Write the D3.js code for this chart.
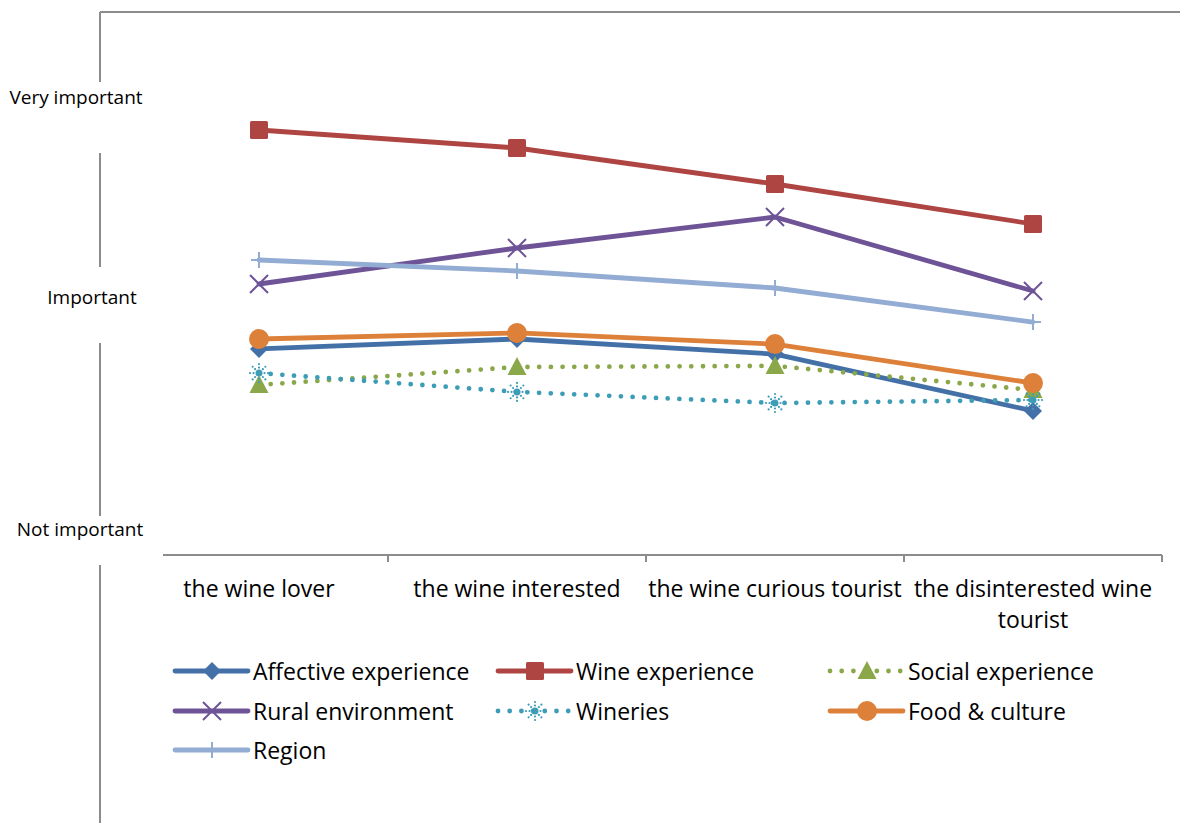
<!DOCTYPE html>
<html>
<head>
<meta charset="utf-8">
<script src="https://cdn.jsdelivr.net/npm/d3@7"></script>
<style>
  body { margin: 0; background: #fff; }
  svg text { font-family: "Open Sans", sans-serif; fill: #000; }
</style>
</head>
<body>
<div id="chart"></div>
<script>
// --- DATA ---
const categories = ["the wine lover", "the wine interested", "the wine curious tourist", "the disinterested wine tourist"];
const levelLabels = ["Not important", "Important", "Very important"];
const levelValues = [1, 2, 3];

const affective = [1.776, 1.819, 1.754, 1.509];
const wineExp   = [2.835, 2.745, 2.565, 2.365];
const social    = [1.621, 1.698, 1.703, 1.599];
const rural     = [2.065, 2.245, 2.400, 2.030];
const wineries  = [1.672, 1.591, 1.543, 1.556];
const food      = [1.819, 1.845, 1.797, 1.629];
const region    = [2.185, 2.130, 2.045, 1.892];

// --- CONFIG ---
const width = 1180, height = 823;
const grey = "#8c8c8c";
const fontSize = "23px";

const series = [
  { name: "Affective experience", values: affective, color: "#4470a8", marker: "diamond", dotted: false },
  { name: "Wine experience",      values: wineExp,   color: "#ae4542", marker: "square",  dotted: false },
  { name: "Social experience",    values: social,    color: "#8aa84a", marker: "triangle", dotted: true },
  { name: "Rural environment",    values: rural,     color: "#6e5497", marker: "x",       dotted: false },
  { name: "Wineries",             values: wineries,  color: "#3d9db7", marker: "star",    dotted: true },
  { name: "Food & culture",       values: food,      color: "#dd803a", marker: "circle",  dotted: false },
  { name: "Region",               values: region,    color: "#92acd3", marker: "plus",    dotted: false }
];

const svg = d3.select("#chart").append("svg")
  .attr("width", width)
  .attr("height", height);

// scales
const x = d3.scalePoint().domain(categories).range([130, 1162]).padding(0.5);
const xBand = d3.scaleBand().domain(categories).range([130, 1162]);
// the three importance labels are not evenly spaced in the picture
const y = d3.scaleLinear().domain(levelValues).range([529, 297, 97]);

// --- FRAME ---
svg.append("line")
  .attr("x1", 100).attr("x2", width).attr("y1", 12).attr("y2", 12)
  .attr("stroke", grey).attr("stroke-width", 2);
svg.append("line")
  .attr("x1", 100).attr("x2", 100).attr("y1", 12).attr("y2", height)
  .attr("stroke", grey).attr("stroke-width", 2);

// x axis : line + ticks at band edges
svg.append("line")
  .attr("x1", 163).attr("x2", xBand.range()[1]).attr("y1", 555).attr("y2", 555)
  .attr("stroke", grey).attr("stroke-width", 2);
svg.selectAll(".xtick")
  .data(categories)
  .join("line")
  .attr("class", "xtick")
  .attr("x1", d => xBand(d) + xBand.bandwidth())
  .attr("x2", d => xBand(d) + xBand.bandwidth())
  .attr("y1", 555).attr("y2", 562)
  .attr("stroke", grey).attr("stroke-width", 2);

// y labels in white boxes that break the vertical line
const yBoxes = [
  { top: 516, bottom: 565, cx: 80 },
  { top: 267, bottom: 343, cx: 92 },
  { top: 82,  bottom: 153, cx: 76 }
];
levelValues.forEach((v, i) => {
  const b = yBoxes[i];
  svg.append("rect")
    .attr("x", 94).attr("width", 12)
    .attr("y", b.top).attr("height", b.bottom - b.top)
    .attr("fill", "#fff");
  svg.append("text")
    .attr("x", b.cx).attr("y", y(v))
    .attr("text-anchor", "middle")
    .attr("dominant-baseline", "central")
    .style("font-size", "19px")
    .text(levelLabels[i]);
});

// x labels (wrapped like the original)
const xLabelLines = {
  "the disinterested wine tourist": ["the disinterested wine", "tourist"]
};
categories.forEach(c => {
  const lines = xLabelLines[c] || [c];
  const t = svg.append("text")
    .attr("text-anchor", "middle")
    .style("font-size", fontSize);
  lines.forEach((l, i) => {
    t.append("tspan").attr("x", x(c)).attr("y", 597 + i * 31).text(l);
  });
});

// --- MARKERS ---
function drawMarker(g, s, cx, cy) {
  const m = s.marker;
  if (m === "diamond") {
    g.append("path").attr("d", `M${cx},${cy - 9}L${cx + 9},${cy}L${cx},${cy + 9}L${cx - 9},${cy}Z`)
      .attr("fill", s.color);
  } else if (m === "square") {
    g.append("rect").attr("x", cx - 9).attr("y", cy - 9).attr("width", 18).attr("height", 18)
      .attr("rx", 1.5).attr("fill", s.color);
  } else if (m === "triangle") {
    g.append("path").attr("d", `M${cx},${cy - 10}L${cx + 9.5},${cy + 8}L${cx - 9.5},${cy + 8}Z`)
      .attr("fill", s.color);
  } else if (m === "circle") {
    g.append("circle").attr("cx", cx).attr("cy", cy).attr("r", 10).attr("fill", s.color);
  } else if (m === "x") {
    g.append("path").attr("d", `M${cx - 9},${cy - 9}L${cx + 9},${cy + 9}M${cx - 9},${cy + 9}L${cx + 9},${cy - 9}`)
      .attr("stroke", s.color).attr("stroke-width", 2).attr("fill", "none");
  } else if (m === "plus") {
    g.append("path").attr("d", `M${cx},${cy - 8}L${cx},${cy + 8}M${cx - 8},${cy}L${cx + 8},${cy}`)
      .attr("stroke", s.color).attr("stroke-width", 2).attr("fill", "none");
  } else if (m === "star") {
    g.append("circle").attr("cx", cx).attr("cy", cy).attr("r", 3.5).attr("fill", s.color);
    d3.range(8).forEach(k => {
      const a = k * Math.PI / 4;
      [5.5, 9].forEach(r => {
        g.append("circle")
          .attr("cx", cx + r * Math.cos(a)).attr("cy", cy + r * Math.sin(a))
          .attr("r", 1.1).attr("fill", s.color);
      });
    });
  }
}

function styleLine(sel, s) {
  sel.attr("fill", "none")
    .attr("stroke", s.color)
    .attr("stroke-linecap", "round")
    .attr("stroke-linejoin", "round")
    .attr("stroke-width", 4.8);
  if (s.dotted) sel.attr("stroke-dasharray", "0 11.7");
}

// --- SERIES ---
const lineGen = d3.line()
  .x((d, i) => x(categories[i]))
  .y(d => y(d));

series.forEach(s => {
  const g = svg.append("g");
  g.append("path").datum(s.values).attr("d", lineGen).call(styleLine, s);
  s.values.forEach((v, i) => drawMarker(g, s, x(categories[i]), y(v)));
});

// --- LEGEND ---
const legendCols = [175, 498, 830];
const legendRows = [671, 711, 750];
series.forEach((s, i) => {
  const lx = legendCols[i % 3], ly = legendRows[Math.floor(i / 3)];
  const g = svg.append("g");
  g.append("line").attr("x1", lx).attr("x2", lx + 73).attr("y1", ly).attr("y2", ly)
    .call(styleLine, s);
  drawMarker(g, s, lx + 37, ly);
  g.append("text")
    .attr("x", lx + 78).attr("y", ly)
    .attr("dominant-baseline", "central")
    .style("font-size", fontSize)
    .text(s.name);
});
</script>
</body>
</html>
